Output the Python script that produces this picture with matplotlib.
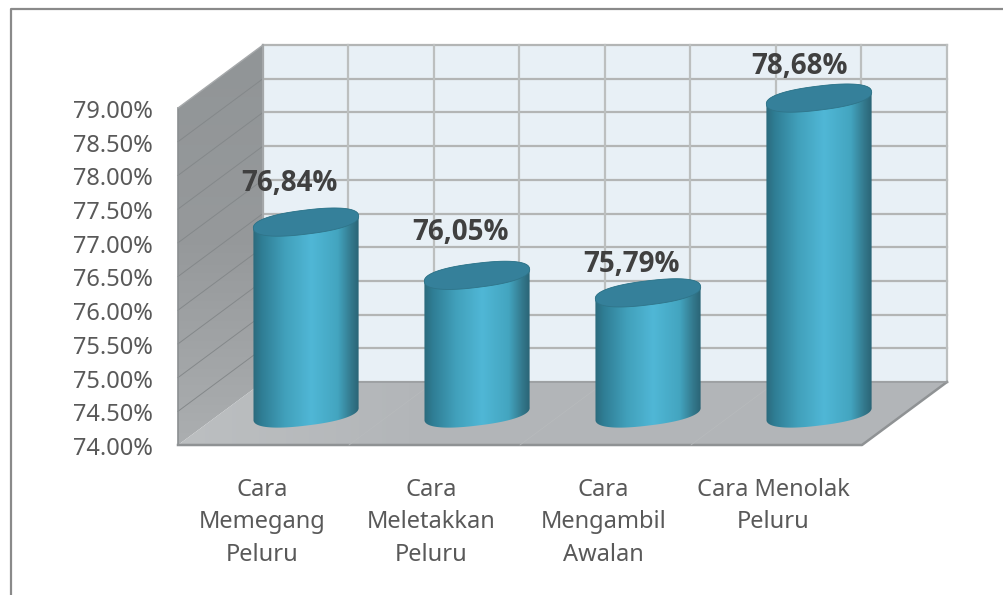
import numpy as np
import matplotlib
matplotlib.use("Agg")
import matplotlib.pyplot as plt
from matplotlib.colors import LinearSegmentedColormap
from matplotlib.patches import PathPatch, Polygon
from matplotlib.path import Path

plt.rcParams["font.family"] = "Noto Sans"

categories = ["Cara\nMemegang\nPeluru", "Cara\nMeletakkan\nPeluru",
              "Cara\nMengambil\nAwalan", "Cara Menolak\nPeluru"]
values = [76.84, 76.05, 75.79, 78.68]
value_labels = ["76,84%", "76,05%", "75,79%", "78,68%"]
ticks = [74.0, 74.5, 75.0, 75.5, 76.0, 76.5, 77.0, 77.5, 78.0, 78.5, 79.0]

W, H = 1004, 595
# pixels per data unit
sx = 171.0
sy = 67.4
y0 = 74.0
y1 = 79.0
# depth of the 3d box, in data units
dx = 85 / sx
dy = 63 / sy

fig = plt.figure(figsize=(W / 100, H / 100), dpi=100)
ax = fig.add_axes([0, 0, 1, 1])
ax.axis("off")
xlim = (-178 / sx, (W - 178) / sx)
ylim = (y0 - (H - 445) / sy, y0 + 445 / sy)

# outer frame, open at the right and at the bottom
frame_x = [xlim[0] + 10.5 / sx, xlim[0] + 10.5 / sx, xlim[1]]
frame_y = [ylim[0], ylim[1] - 8.5 / sy, ylim[1] - 8.5 / sy]
ax.plot(frame_x, frame_y, color="#8a8a8a", lw=1.6, zorder=1)

# back wall
ax.add_patch(Polygon([(dx, y0 + dy), (4 + dx, y0 + dy), (4 + dx, y1 + dy), (dx, y1 + dy)],
                     fc="#e8f0f6", ec="none", zorder=2))
for t in ticks:
    ax.plot([dx, 4 + dx], [t + dy, t + dy], color="#b3b5b5", lw=1.6, zorder=3)
for i in range(9):
    ax.plot([dx + i * 0.5 - 0.5 / sx, dx + i * 0.5 - 0.5 / sx], [y0 + dy, y1 + dy],
            color="#bcbfbf", lw=1.6, zorder=3)

# left wall with a soft vertical shade
wall = Polygon([(0, y0), (dx, y0 + dy), (dx, y1 + dy), (0, y1)], fc="none", ec="none", zorder=4)
ax.add_patch(wall)
wall_cmap = LinearSegmentedColormap.from_list("wall", ["#919597", "#96999b", "#abaeb0"])
im = ax.imshow(np.linspace(0, 1, 100).reshape(-1, 1), cmap=wall_cmap, aspect="auto",
               extent=(0, dx, y0, y1 + dy), origin="upper", zorder=4)
im.set_clip_path(wall)
for t in ticks[1:-1]:
    ax.plot([0, dx], [t, t + dy], color="#84888a", lw=0.7, zorder=5)
ax.plot([0, 0], [y0, y1], color="#8b8f91", lw=1.2, zorder=5)
ax.plot([dx, dx], [y0 + dy, y1 + dy], color="#a4a7a9", lw=1.5, zorder=5)
ax.plot([0, dx], [y1, y1 + dy], color="#a6a9ab", lw=1, zorder=5)

# floor, lighter towards the left corner
floor = Polygon([(0, y0), (4, y0), (4 + dx, y0 + dy), (dx, y0 + dy)], fc="none", ec="none", zorder=6)
ax.add_patch(floor)
floor_cmap = LinearSegmentedColormap.from_list("floor", ["#bcbfc1", "#b2b5b8", "#b2b5b8", "#b2b5b8"])
fl = ax.imshow(np.linspace(0, 1, 200).reshape(1, -1), cmap=floor_cmap, aspect="auto",
               extent=(0, 4 + dx, y0, y0 + dy), zorder=6)
fl.set_clip_path(floor)
ax.plot([0, 4, 4 + dx], [y0, y0, y0 + dy], color="#8f9294", lw=1.8, zorder=7)
ax.plot([dx, 4 + dx], [y0 + dy, y0 + dy], color="#9a9da0", lw=1.2, zorder=7)
for i in range(1, 4):
    ax.plot([i, i + dx], [y0, y0 + dy], color="#b8bbbd", lw=0.5, zorder=7)

# cylinders
body_cmap = LinearSegmentedColormap.from_list(
    "body", [(0, "#2b6a7c"), (0.08, "#2f7d94"), (0.3, "#41a0bb"), (0.55, "#50b7d6"),
             (0.8, "#43a5c0"), (0.93, "#33788c"), (1, "#2a6476")])
a = 53.0
b = 12.0
tilt = np.radians(7)
angle = np.linspace(0, 2 * np.pi, 181)
# slightly squarer than a true ellipse
ca = np.sign(np.cos(angle)) * np.abs(np.cos(angle)) ** 0.85
sa = np.sign(np.sin(angle)) * np.abs(np.sin(angle)) ** 0.85
ex = (a * ca * np.cos(tilt) - b * sa * np.sin(tilt)) / sx
ey = (a * ca * np.sin(tilt) + b * sa * np.cos(tilt)) / sy

# label offsets from the centre of the cylinder top, pixels
label_dx = [-16.5, -16.5, -17, -20]
label_dy = [39, 43, 28, 32]

for i, v in enumerate(values):
    cx = i + 0.5 + dx / 2
    base = y0 + dy / 2
    top = v + dy / 2
    # body: lower half of bottom ellipse, then up and round the top
    lower = angle > np.pi
    verts = np.concatenate([
        np.column_stack([cx + ex[lower], base + ey[lower]]),
        np.column_stack([cx + ex[~lower], top + ey[~lower]]),
    ])
    clip = PathPatch(Path(np.vstack([verts, verts[:1]]), closed=True), fc="none", ec="none", zorder=10 + i)
    ax.add_patch(clip)
    body = ax.imshow(np.linspace(0, 1, 256).reshape(1, -1), cmap=body_cmap, aspect="auto",
                     extent=(cx - a / sx, cx + a / sx, base - 20 / sy, top + 20 / sy),
                     zorder=10 + i)
    body.set_clip_path(clip)
    ax.fill(cx + ex, top + ey, color="#35809a", ec="#2f7489", lw=0.6, zorder=10.5 + i)
    ax.text(cx + label_dx[i] / sx, top + label_dy[i] / sy, value_labels[i], ha="center", va="center",
            family="Open Sans", fontsize=20, fontweight="bold", color="#404040", zorder=20)

# axis text
for t in ticks:
    ax.text(-25 / sx, t - 4 / sy, f"{t:.2f}%", ha="right", va="center", fontsize=17, color="#595959")
cat_shift = [-1, -3, -2, -3]
for i, c in enumerate(categories):
    ax.text(i + 0.5 + cat_shift[i] / sx, y0 - 33 / sy, c, ha="center", va="top", fontsize=17,
            color="#595959", linespacing=1.46)

ax.set_xlim(*xlim)
ax.set_ylim(*ylim)

fig.savefig("out.png", dpi=100, facecolor="white")
